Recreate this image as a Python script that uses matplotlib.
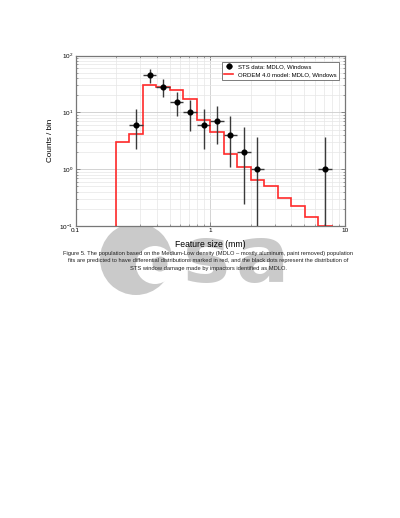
import matplotlib
matplotlib.use("Agg")
import matplotlib.pyplot as plt
from matplotlib.patches import Circle
from matplotlib.ticker import FixedLocator, FixedFormatter, LogLocator, NullFormatter

plt.rcParams['font.family'] = ['Liberation Sans', 'DejaVu Sans']
plt.rcParams['mathtext.fontset'] = 'custom'
plt.rcParams['mathtext.rm'] = 'Liberation Sans'
plt.rcParams['mathtext.it'] = 'Liberation Sans:italic'
plt.rcParams['mathtext.bf'] = 'Liberation Sans:bold'

# ORDEM 4.0 model, differential counts per bin
bin_edges = [0.2, 0.251, 0.316, 0.398, 0.501, 0.631, 0.794, 1.0, 1.26,
             1.585, 2.0, 2.51, 3.16, 3.98, 5.01, 6.31, 7.94]
model_counts = [3.0, 4.1, 31, 28, 24.5, 17, 7.3, 4.46, 1.85, 1.11,
                0.655, 0.50, 0.311, 0.228, 0.142, 0.101]

# STS window data (MDLO)
sts_size = [0.282, 0.355, 0.447, 0.562, 0.708, 0.891, 1.12, 1.41, 1.78, 2.24, 7.08]
sts_lo_edge = [0.251, 0.316, 0.398, 0.501, 0.631, 0.794, 1.0, 1.26, 1.585, 2.0, 6.31]
sts_hi_edge = [0.316, 0.398, 0.501, 0.631, 0.794, 1.0, 1.26, 1.585, 2.0, 2.51, 7.94]
sts_counts = [6, 45, 28, 15, 10, 6, 7, 4, 2, 1, 1]
sts_upper = [11.5, 58, 39.4, 23.2, 16.6, 11.5, 12.8, 8.8, 5.5, 3.7, 3.7]
sts_lower = [2.24, 33.4, 19, 8.5, 4.8, 2.24, 2.8, 1.1, 0.24, 0.001, 0.001]

caption = [
    "Figure 5. The population based on the Medium-Low density (MDLO \u2013 mostly aluminum, paint removed) population",
    "fits are predicted to have differential distributions marked in red, and the black dots represent the distribution of",
    "STS window damage made by impactors identified as MDLO.",
]

fig = plt.figure(figsize=(4.0, 5.18), dpi=100)

# background layer in pixel units: esa logo watermark + caption
bg = fig.add_axes([0, 0, 1, 1], zorder=-1)
bg.set_xlim(0, 400)
bg.set_ylim(518, 0)
bg.axis('off')
logo = '#cacaca'
bg.add_patch(Circle((136, 259), 36, color=logo, lw=0))
bg.add_patch(Circle((155, 265), 19, color='white', lw=0))
bg.add_patch(Circle((160, 264), 7.5, color=logo, lw=0))
bg.text(183, 282, 's', fontsize=57, fontweight='bold', color=logo,
        family='DejaVu Sans', ha='left', va='baseline')
bg.text(236, 282, 'a', fontsize=57, fontweight='bold', color=logo,
        family='DejaVu Sans', ha='left', va='baseline')

ax = fig.add_axes([0.189, 0.5637, 0.6735, 0.3288])
ax.set_xscale('log')
ax.set_yscale('log')

ax.stairs(model_counts, bin_edges, baseline=0.01, color='#ff2a2a', lw=1.2,
          label='ORDEM 4.0 model: MDLO, Windows', zorder=3)

xerr = [[s - lo for s, lo in zip(sts_size, sts_lo_edge)],
        [hi - s for s, hi in zip(sts_size, sts_hi_edge)]]
yerr = [[c - lo for c, lo in zip(sts_counts, sts_lower)],
        [up - c for c, up in zip(sts_counts, sts_upper)]]
ax.errorbar(sts_size, sts_counts, xerr=xerr, yerr=yerr, fmt='o', color='k',
            ms=3.4, ecolor='#3a3a3a', elinewidth=1.0, capsize=0,
            label='STS data: MDLO, Windows', zorder=4)

ax.set_xlim(0.1, 10)
ax.set_ylim(0.1, 100)

ax.xaxis.set_major_locator(FixedLocator([0.1, 1, 10]))
ax.xaxis.set_major_formatter(FixedFormatter(['0.1', '1', '10']))
ax.xaxis.set_minor_locator(LogLocator(base=10, subs=range(2, 10)))
ax.xaxis.set_minor_formatter(NullFormatter())
ax.yaxis.set_minor_locator(LogLocator(base=10, subs=range(2, 10)))
ax.yaxis.set_minor_formatter(NullFormatter())

ax.grid(which='major', color='#cccccc', lw=0.6)
ax.grid(which='minor', color='#e6e6e6', lw=0.5)
ax.set_axisbelow(True)

ax.tick_params(which='both', direction='in', top=True, right=True,
               color='#777777', labelsize=4.6, pad=1.5)
ax.tick_params(which='major', length=3, width=0.6)
ax.tick_params(which='minor', length=1.5, width=0.5)
for sp in ax.spines.values():
    sp.set_color('#777777')
    sp.set_linewidth(0.9)

ax.set_xlabel('Feature size (mm)', fontsize=6.2)
ax.xaxis.set_label_coords(0.5, -0.082)
ax.set_ylabel('Counts / bin', fontsize=5.9)
ax.yaxis.set_label_coords(-0.08, 0.5)

handles, labels = ax.get_legend_handles_labels()
leg = ax.legend(handles[::-1], labels[::-1], loc='upper right', fontsize=4.3,
                fancybox=False, framealpha=1, edgecolor='#666666',
                borderaxespad=1.0, handlelength=1.5)
leg.get_frame().set_linewidth(0.6)

for i, line in enumerate(caption):
    bg.text(208, 253.5 + 7.3 * i, line, fontsize=4.15, color='#222222',
            ha='center', va='center', zorder=5)

fig.savefig('out.png', dpi=100)
